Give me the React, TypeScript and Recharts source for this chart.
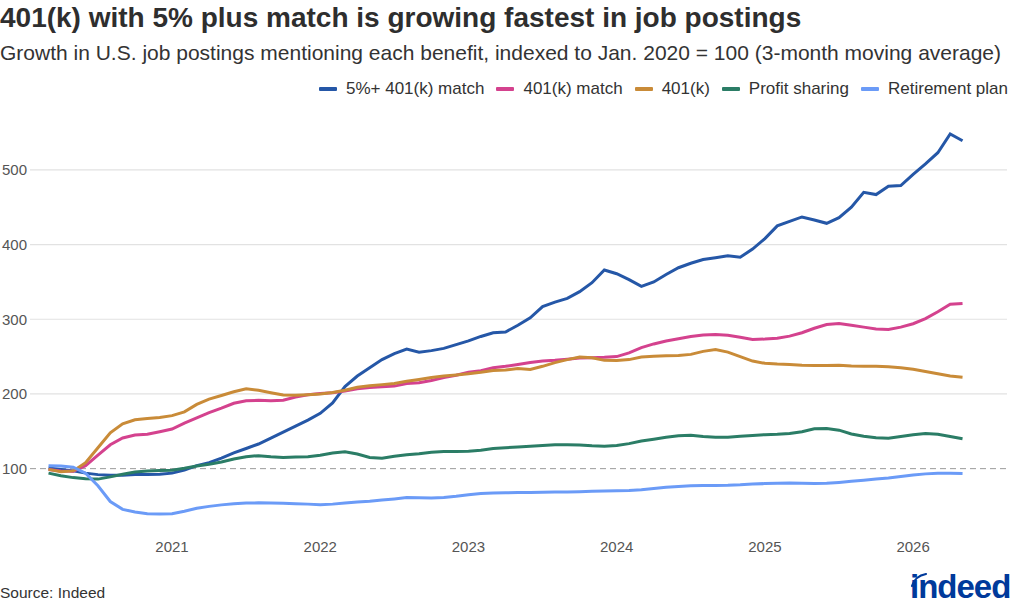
import { LineChart, Line, XAxis, YAxis, ReferenceLine } from 'recharts';

// x = months since Jan 2020; series run monthly from Mar 2020 to May 2026
const firstMonth = 2;

const match5Plus = [
  101, 99, 97, 94, 92, 91, 91, 92, 92, 92.5,
  94, 98, 104, 108, 114, 121, 127, 133, 141, 149,
  157, 165, 174, 188, 210, 224, 235, 246, 254, 260,
  256, 258, 261, 266, 271, 277, 282, 283, 292, 302,
  317, 323, 328, 337, 349, 366, 361, 353, 344, 350,
  360, 369, 375, 380, 382.5, 385, 383, 394, 408, 425,
  431, 437, 433, 428.5, 436, 450, 470, 467, 478, 479,
  494, 508, 523, 548, 539,
];

const match401k = [
  99, 97, 96.5, 104, 118, 132, 141, 145, 146, 149.5,
  153, 161, 168, 175, 181, 187.5, 191, 191.5, 191, 191.6,
  196, 199, 200.5, 201.5, 204, 207, 208.5, 209.5, 210.5, 214,
  215, 218, 222, 225, 229, 231, 235, 237, 239.5, 242,
  244, 245, 246.5, 248, 248.5, 249, 250, 255, 262, 267,
  271, 274, 277, 279, 279.5, 278.5, 276, 273, 273.5, 274.5,
  277.4, 282, 288, 293, 294.4, 292, 289.5, 287, 286.4, 289.5,
  294, 301, 310, 320, 321,
];

const plain401k = [
  99, 96, 97, 108, 128, 148, 160, 165.5, 167, 168.4,
  171, 176, 186, 193, 198, 203, 207, 205, 201.7, 198.5,
  198.3, 199, 200, 202, 205, 209, 211, 212.5, 214, 217,
  219.5, 222, 224, 225.5, 227, 229, 231.5, 232, 234, 232.7,
  237, 242, 246, 249.5, 248.5, 245, 244.8, 246, 249.5, 250.5,
  251, 251.5, 253, 257, 259.5, 256, 250, 244, 241, 240,
  239.4, 238.5, 238, 238, 238.5, 237.5, 237, 237, 236.5, 235,
  233, 230, 227, 224, 222.4,
];

const profitSharing = [
  94, 90.5, 88, 86.5, 86, 89, 92.5, 95.5, 97, 97.5,
  98, 100.5, 103.5, 106, 109, 113, 116, 117.4, 116, 115,
  115.7, 116, 118, 121, 122.5, 119.5, 115, 114, 116.5, 118.5,
  120, 122, 122.8, 123, 123.3, 124.5, 127, 128, 129, 130,
  131, 132, 132, 131.5, 130.5, 130, 131, 133.5, 137, 139.5,
  142, 144, 144.6, 143, 142, 142, 143.5, 144.5, 145.5, 146,
  147, 149.5, 153.5, 153.6, 151.5, 146.5, 143.5, 141.5, 140.7, 143,
  145.5, 147, 146, 143, 140,
];

const retirementPlan = [
  104, 103.5, 102, 94, 77, 56, 45.5, 42, 39.5, 39.3,
  39.5, 43, 47, 49.5, 51.5, 53, 54, 54.2, 54, 53.7,
  53, 52.5, 51.5, 52.5, 54, 55.5, 56.5, 58, 59.5, 61.3,
  61, 60.7, 61.5, 63, 65, 66.6, 67.4, 67.6, 68, 68,
  68.4, 68.6, 68.8, 69.2, 69.6, 70, 70.3, 70.6, 71.6, 73.5,
  75, 76.2, 77.2, 77.6, 77.6, 77.7, 78.3, 79.3, 80, 80.6,
  80.8, 80.4, 80, 80.3, 81.5, 83, 84.5, 86, 87.5, 89.5,
  91.5, 93, 94, 94, 93.5,
];

const yearTicks = [12, 24, 36, 48, 60, 72];
const yearLabels = ['2021', '2022', '2023', '2024', '2025', '2026'];
const valueTicks = [100, 200, 300, 400, 500];
// 100 is the index base and gets a dashed rule instead of a grid line
const baseline = 100;

const series = [
  { key: 'match5Plus', name: '5%+ 401(k) match', color: '#2557a7', values: match5Plus },
  { key: 'match401k', name: '401(k) match', color: '#d4428e', values: match401k },
  { key: 'plain401k', name: '401(k)', color: '#c98b38', values: plain401k },
  { key: 'profitSharing', name: 'Profit sharing', color: '#2b7d66', values: profitSharing },
  { key: 'retirementPlan', name: 'Retirement plan', color: '#6b9bf7', values: retirementPlan },
];

const rows = match5Plus.map((_, i) => {
  const row: Record<string, number> = { month: firstMonth + i };
  series.forEach((s) => {
    row[s.key] = s.values[i];
  });
  return row;
});

const font = '"Liberation Sans", Arial, Helvetica, sans-serif';

function IndeedLogo() {
  return (
    <svg width={104} height={40} style={{ position: 'absolute', left: 906, top: 564 }}>
      <path d="M6 22 Q9 12 20 10" stroke="#003a9b" strokeWidth={2.2} fill="none" strokeLinecap="round" />
      <text x={4} y={34} fontFamily={font} fontWeight={700} fontSize={33} fill="#003a9b" letterSpacing={-1}>
        indeed
      </text>
    </svg>
  );
}

export default function App() {
  return (
    <div
      style={{
        position: 'absolute',
        left: 0,
        top: 0,
        width: 1024,
        height: 614,
        background: '#fff',
        fontFamily: font,
        color: '#333',
        overflow: 'hidden',
      }}
    >
      <div style={{ position: 'absolute', left: 0, top: 3, fontSize: 28, lineHeight: '30px', fontWeight: 700, color: '#2e2e2e' }}>
        401(k) with 5% plus match is growing fastest in job postings
      </div>
      <div style={{ position: 'absolute', left: 0, top: 41, fontSize: 21, lineHeight: '24px', color: '#333' }}>
        Growth in U.S. job postings mentioning each benefit, indexed to Jan. 2020 = 100 (3-month moving average)
      </div>

      <div
        style={{
          position: 'absolute',
          right: 16,
          top: 79,
          display: 'flex',
          alignItems: 'center',
          gap: 12,
          fontSize: 17,
          lineHeight: '20px',
          color: '#333',
        }}
      >
        {series.map((s) => (
          <div key={s.key} style={{ display: 'flex', alignItems: 'center', gap: 9 }}>
            <span style={{ display: 'inline-block', width: 18, height: 4, background: s.color, borderRadius: 1 }} />
            <span>{s.name}</span>
          </div>
        ))}
      </div>

      <LineChart width={1024} height={614} data={rows} margin={{ top: 115, right: 17, bottom: 50, left: 0 }}>
        <XAxis
          dataKey="month"
          type="number"
          domain={[0.5, 79.6]}
          ticks={yearTicks}
          tickFormatter={(m: number) => yearLabels[yearTicks.indexOf(m)]}
          axisLine={false}
          tickLine={false}
          tickSize={0}
          tickMargin={7}
          height={30}
          tick={{ fill: '#555', fontSize: 15, fontFamily: font }}
        />
        <YAxis
          type="number"
          domain={[12.5, 573.5]}
          ticks={valueTicks}
          axisLine={false}
          tickLine={false}
          tickSize={0}
          tickMargin={3}
          width={30}
          tick={{ fill: '#555', fontSize: 15, fontFamily: font }}
        />
        {valueTicks
          .filter((v) => v !== baseline)
          .map((v) => (
            <ReferenceLine key={v} y={v} stroke="#e2e2e2" strokeWidth={1.2} />
          ))}
        <ReferenceLine y={baseline} stroke="#9a9a9a" strokeDasharray="6 4" strokeWidth={1} />
        {series.map((s) => (
          <Line
            key={s.key}
            type="linear"
            dataKey={s.key}
            name={s.name}
            stroke={s.color}
            strokeWidth={3}
            dot={false}
            isAnimationActive={false}
          />
        ))}
      </LineChart>

      <div style={{ position: 'absolute', left: 0, top: 584, fontSize: 15.5, lineHeight: '17px', color: '#333' }}>
        Source: Indeed
      </div>
      <IndeedLogo />
    </div>
  );
}
